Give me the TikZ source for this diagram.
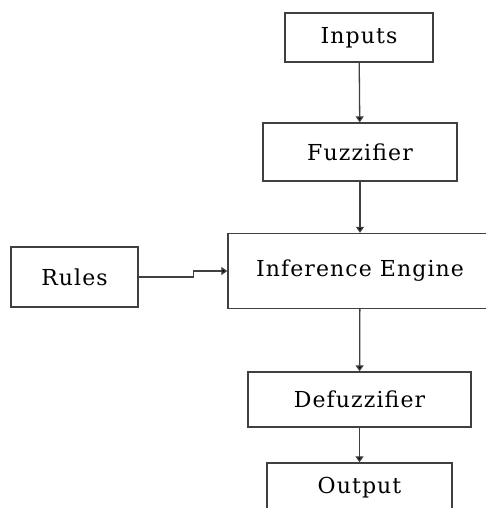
\documentclass[tikz,border=0pt]{standalone}
\usepackage{fontspec}
\setmainfont{DejaVu Serif}[LetterSpace=5]
\usetikzlibrary{arrows.meta}

\begin{document}
\begin{tikzpicture}[x=1pt, y=-1pt,
    block/.style={draw=black!75, line width=1.4pt, fill=white, inner sep=0pt, font=\fontsize{22}{26}\selectfont},
    flow/.style={draw=black!75, line width=1.3pt, -{Triangle[width=8pt,length=6pt,fill=black]}}]

            \useasboundingbox (0,0) rectangle (486,508);

            \node[block, minimum width=148pt, minimum height=49pt] (inputs) at (359,37.5) {Inputs};
            \node[block, minimum width=194pt, minimum height=58pt] (fuzz) at (360,152) {Fuzzifier};
            \node[block, minimum width=264pt, minimum height=75pt] (infer) at (360,271) {Inference Engine};
            \node[block, minimum width=127pt, minimum height=60pt] (rules) at (74.5,277) {Rules};
            \node[block, minimum width=223pt, minimum height=55pt] (defuzz) at (359.5,399.5) {Defuzzifier};
            \node[block, minimum width=185pt, minimum height=50pt] (output) at (359.5,488) {Output};

            \draw[flow] (inputs)--(fuzz);
            \draw[flow] (fuzz)--(infer);
            \draw[flow] (rules.east)--++(55,0) |- (infer.west);
            \draw[flow] (infer)--(defuzz);
            \draw[flow] (defuzz)--(output);

        \end{tikzpicture}
\end{document}
